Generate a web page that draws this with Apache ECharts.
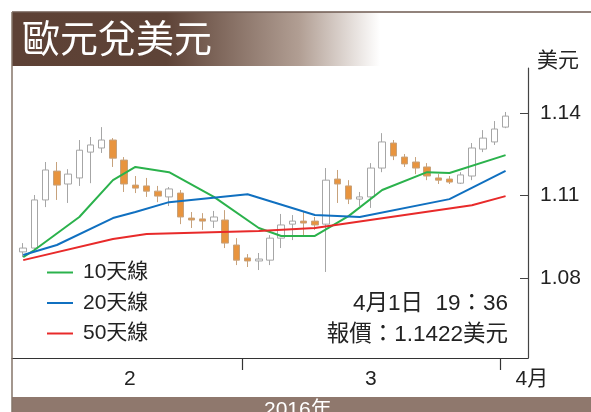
<!DOCTYPE html>
<html><head><meta charset="utf-8">
<script src="https://cdn.jsdelivr.net/npm/echarts@6/dist/echarts.min.js"></script>
<style>html,body{margin:0;padding:0;background:#fff}#c{width:591px;height:412px}</style>
</head><body><div id="c"></div>
<script>
// Trading days, 2 Feb – 1 Apr 2016
const dates = ['2/2','2/3','2/4','2/5','2/8','2/9','2/10','2/11','2/12','2/15','2/16','2/17','2/18','2/19','2/22','2/23','2/24','2/25','2/26','2/29',
  '3/1','3/2','3/3','3/4','3/7','3/8','3/9','3/10','3/11','3/14','3/15','3/16','3/17','3/18','3/21','3/22','3/23','3/24','3/25','3/28','3/29','3/30','3/31',
  '4/1'];
const opens  = [1.0895,1.0909,1.1084,1.1189,1.1142,1.1164,1.1258,1.1273,1.1302,1.1229,1.1138,1.1135,1.1116,1.1095,1.1109,1.1018,1.1015,1.1007,1.1011,1.0920,1.0873,1.0862,1.0865,1.0945,1.0996,1.1007,1.1007,1.0996,1.1160,1.1135,1.1087,1.1095,1.1200,1.1291,1.1240,1.1222,1.1204,1.1164,1.1160,1.1145,1.1171,1.1269,1.1295,1.1349];
const closes = [1.0909,1.1084,1.1193,1.1138,1.1178,1.1265,1.1284,1.1302,1.1236,1.1142,1.1127,1.1116,1.1098,1.1124,1.1022,1.1011,1.1007,1.1022,1.0927,1.0865,1.0862,1.0869,1.0945,1.0993,1.1007,1.1000,1.0993,1.1156,1.1142,1.1087,1.1095,1.1200,1.1295,1.1244,1.1215,1.1200,1.1171,1.1156,1.1149,1.1175,1.1273,1.1309,1.1342,1.1389];
const lows   = [1.0876,1.0895,1.1058,1.1084,1.1073,1.1135,1.1145,1.1255,1.1204,1.1113,1.1109,1.1095,1.1076,1.1062,1.0996,1.0982,1.0975,1.0982,1.0909,1.0847,1.0840,1.0829,1.0847,1.0909,1.0938,1.0956,1.0975,1.0822,1.1073,1.1069,1.1062,1.1055,1.1185,1.1229,1.1204,1.1178,1.1156,1.1142,1.1142,1.1142,1.1156,1.1258,1.1284,1.1345];
const highs  = [1.0927,1.1102,1.1222,1.1222,1.1196,1.1302,1.1313,1.1349,1.1309,1.1240,1.1171,1.1164,1.1135,1.1131,1.1120,1.1040,1.1036,1.1044,1.1047,1.0945,1.0887,1.0891,1.0956,1.1033,1.1029,1.1040,1.1022,1.1200,1.1193,1.1156,1.1113,1.1218,1.1327,1.1302,1.1251,1.1240,1.1218,1.1178,1.1171,1.1185,1.1291,1.1338,1.1371,1.1404];

const _ = null;
const ma10 = [1.0876,1.0902,_,_,_,1.1022,_,_,1.1156,_,1.1204,_,_,1.1185,_,_,_,1.1095,_,_,_,1.0982,_,1.0953,_,_,1.0953,_,_,1.1025,_,_,1.1120,_,_,_,1.1185,_,1.1182,_,_,_,_,1.1247];
const ma20 = [1.0884,_,_,1.0920,_,_,_,_,1.1018,_,1.1040,_,_,1.1076,_,_,_,_,_,_,1.1105,_,_,_,_,_,1.1029,_,_,_,1.1022,_,_,_,_,_,_,_,1.1087,_,_,_,_,1.1190];
const ma50 = [1.0865,_,_,_,_,_,_,_,1.0942,_,_,1.0960,_,_,_,_,_,_,_,_,_,1.0971,_,_,_,_,1.0982,_,_,_,_,_,_,_,_,_,_,_,_,_,1.1065,_,_,1.1098];

const yTicks = [1.08, 1.11, 1.14];
const monthLabels = ['2', '3', '4月'];

const FONT = "'Liberation Sans','Noto Sans CJK TC',sans-serif";
const candleData = dates.map((d, i) => [opens[i], closes[i], lows[i], highs[i]]);
const marIdx = dates.findIndex(d => d.startsWith('3/'));
const aprIdx = dates.findIndex(d => d.startsWith('4/'));
const tickPos = [marIdx - 0.5, aprIdx - 0.5];
const labelPos = [(-0.5 + tickPos[0]) / 2, (tickPos[0] + tickPos[1]) / 2, tickPos[1] + 2.85];

const chart = echarts.init(document.getElementById('c'), null, {renderer: 'canvas'});
chart.setOption({
  animation: false,
  backgroundColor: '#ffffff',
  textStyle: {fontFamily: FONT},
  title: [
    {text: '歐元兌美元', left: 22, top: 19, padding: 0,
     textStyle: {color: '#ffffff', fontSize: 38, fontWeight: 'normal', fontFamily: "'Noto Sans CJK TC',sans-serif"}},
    {text: '4月1日  19：36', right: 83, top: 293, padding: 0,
     textStyle: {color: '#222', fontSize: 22.5, fontWeight: 'normal', fontFamily: FONT}},
    {text: '報價：1.1422美元', right: 83, top: 324, padding: 0,
     textStyle: {color: '#222', fontSize: 22.5, fontWeight: 'normal', fontFamily: FONT}},
    {text: '2016年', left: 264, top: 400, padding: 0,
     textStyle: {color: '#ffffff', fontSize: 21, fontWeight: 'normal', fontFamily: FONT}}
  ],
  legend: {
    data: ['10天線', '20天線', '50天線'], orient: 'vertical', left: 47, top: 262, padding: 0,
    icon: 'rect', itemWidth: 26, itemHeight: 2, itemGap: 9.5,
    textStyle: {fontSize: 21, color: '#222', lineHeight: 21, padding: [0, 0, 0, 5], fontFamily: FONT}
  },
  grid: [
    {left: 12, right: 63, top: 68, bottom: 54},
    {left: 12, right: 0, top: 68, bottom: 54}
  ],
  xAxis: [
    {type: 'category', gridIndex: 0, data: dates, boundaryGap: false, min: -1, max: 45,
     axisLine: {show: true, lineStyle: {color: '#333', width: 1.2}},
     axisTick: {show: false}, axisLabel: {show: false}, splitLine: {show: false}},
    {type: 'value', gridIndex: 1, min: -1, max: 50.62,
     axisLine: {show: false},
     axisTick: {show: true, customValues: tickPos, length: 12, lineStyle: {color: '#333', width: 1.2}},
     axisLabel: {customValues: labelPos, margin: 11, fontSize: 21, color: '#222', fontFamily: FONT,
       formatter: v => {
         let best = 0;
         labelPos.forEach((p, k) => { if (Math.abs(p - v) < Math.abs(labelPos[best] - v)) best = k; });
         return monthLabels[best];
       }},
     splitLine: {show: false}}
  ],
  yAxis: [
    {type: 'value', gridIndex: 0, position: 'right', min: 1.0509, max: 1.1564,
     name: '美元', nameLocation: 'end', nameGap: -4,
     nameTextStyle: {fontSize: 21, color: '#222', align: 'left', padding: [0, 0, 0, 9], fontFamily: FONT},
     axisLine: {show: true, lineStyle: {color: '#444', width: 1.2}},
     axisTick: {show: true, inside: true, length: 8, customValues: yTicks, lineStyle: {color: '#444'}},
     axisLabel: {customValues: yTicks, formatter: v => v.toFixed(2), margin: 12, fontSize: 21, color: '#222', fontFamily: FONT},
     splitLine: {show: false}},
    {type: 'value', gridIndex: 1, show: false, min: 0, max: 1}
  ],
  graphic: [
    {type: 'rect', z: 0, shape: {x: 12, y: 12, width: 368, height: 54},
     style: {fill: new echarts.graphic.LinearGradient(0, 0, 1, 0, [
       {offset: 0, color: '#5d4135'}, {offset: 0.42, color: '#5e4337'},
       {offset: 0.78, color: '#b19e93'}, {offset: 1, color: '#ffffff'}])}},
    {type: 'line', z: 1, shape: {x1: 12, y1: 12, x2: 591, y2: 12}, style: {stroke: '#6e5a50', lineWidth: 1.5}},
    {type: 'line', z: 1, shape: {x1: 12, y1: 12, x2: 12, y2: 412}, style: {stroke: '#857469', lineWidth: 1.5}},
    {type: 'rect', z: 0, shape: {x: 12, y: 397, width: 579, height: 15}, style: {fill: '#8f786d'}}
  ],
  series: [
    {type: 'candlestick', xAxisIndex: 0, yAxisIndex: 0, data: candleData, barWidth: 7,
     itemStyle: {color: '#ffffff', color0: '#e8943e', borderColor: '#a6a6a6', borderColor0: '#c7a27c', borderWidth: 1}},
    {type: 'line', name: '10天線', data: ma10, connectNulls: true, symbol: 'none', z: 3,
     lineStyle: {width: 2, color: '#2bb24c'}, itemStyle: {color: '#2bb24c'}},
    {type: 'line', name: '20天線', data: ma20, connectNulls: true, symbol: 'none', z: 3,
     lineStyle: {width: 2, color: '#1070c0'}, itemStyle: {color: '#1070c0'}},
    {type: 'line', name: '50天線', data: ma50, connectNulls: true, symbol: 'none', z: 3,
     lineStyle: {width: 2, color: '#e82a2a'}, itemStyle: {color: '#e82a2a'}}
  ]
});
</script></body></html>
